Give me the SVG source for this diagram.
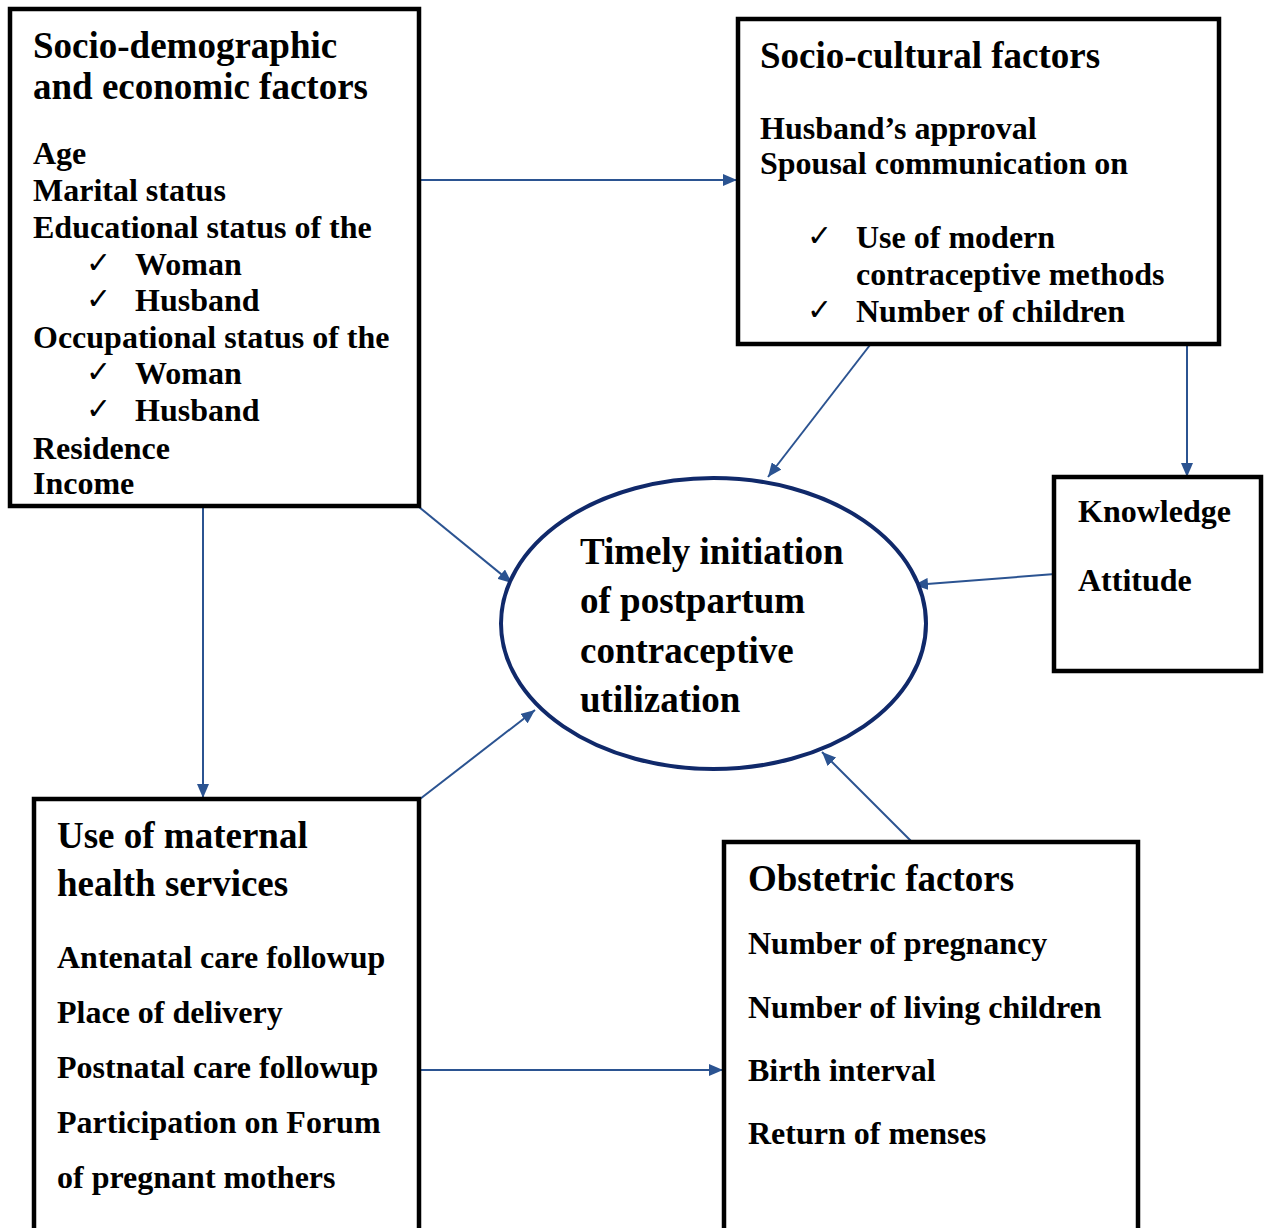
<svg xmlns="http://www.w3.org/2000/svg" width="1267" height="1228" viewBox="0 0 1267 1228">
<style>
.box{fill:#fff;stroke:#000;stroke-width:4.5}
.t{font-family:"Liberation Serif","Times New Roman",serif;font-weight:bold;fill:#000}
.h{font-size:37px}
.b{font-size:32px}
.ck{font-family:"DejaVu Sans",sans-serif;font-size:30px;fill:#000}
.c{stroke:#2b5391;stroke-width:2;fill:none;marker-end:url(#ah)}
</style>
<defs>
<marker id="ah" markerUnits="userSpaceOnUse" markerWidth="16" markerHeight="12" refX="14" refY="6" orient="auto">
<path d="M0,0 L14,6 L0,12 z" fill="#2b5391"/>
</marker>
</defs>
<rect width="1267" height="1228" fill="#fff"/>

<g id="connectors">
<line class="c" x1="420" y1="180" x2="737" y2="180"/>
<line class="c" x1="870" y1="345" x2="768" y2="477"/>
<line class="c" x1="1187" y1="345" x2="1187" y2="477"/>
<line class="c" x1="1055" y1="574" x2="914" y2="585"/>
<line class="c" x1="419" y1="507" x2="512" y2="583"/>
<line class="c" x1="203" y1="507" x2="203" y2="798"/>
<line class="c" x1="420" y1="799" x2="535" y2="710"/>
<line class="c" x1="912" y1="842" x2="822" y2="752"/>
<line class="c" x1="420" y1="1070" x2="723" y2="1070"/>
</g>

<g id="socio-demographic">
<rect class="box" x="10" y="9" width="409" height="497"/>
<text class="t h" x="33" y="58">Socio-demographic</text>
<text class="t h" x="33" y="99">and economic factors</text>
<text class="t b" x="33" y="164">Age</text>
<text class="t b" x="33" y="201">Marital status</text>
<text class="t b" x="33" y="238">Educational status of the</text>
<text class="ck" x="86" y="273">✓</text>
<text class="t b" x="135" y="275">Woman</text>
<text class="ck" x="86" y="309">✓</text>
<text class="t b" x="135" y="311">Husband</text>
<text class="t b" x="33" y="348">Occupational status of the</text>
<text class="ck" x="86" y="382">✓</text>
<text class="t b" x="135" y="384">Woman</text>
<text class="ck" x="86" y="419">✓</text>
<text class="t b" x="135" y="421">Husband</text>
<text class="t b" x="33" y="459">Residence</text>
<text class="t b" x="33" y="494">Income</text>
</g>

<g id="socio-cultural">
<rect class="box" x="738" y="19" width="481" height="325"/>
<text class="t h" x="760" y="68">Socio-cultural factors</text>
<text class="t b" x="760" y="139">Husband’s approval</text>
<text class="t b" x="760" y="174">Spousal communication on</text>
<text class="ck" x="807" y="246">✓</text>
<text class="t b" x="856" y="248">Use  of modern</text>
<text class="t b" x="856" y="285">contraceptive methods</text>
<text class="ck" x="807" y="320">✓</text>
<text class="t b" x="856" y="322">Number of children</text>
</g>

<g id="knowledge-attitude">
<rect class="box" x="1054" y="477" width="207" height="194"/>
<text class="t b" x="1078" y="522">Knowledge</text>
<text class="t b" x="1078" y="591">Attitude</text>
</g>

<g id="outcome">
<ellipse cx="713.5" cy="623.5" rx="212.5" ry="145.5" fill="#fff" stroke="#10296a" stroke-width="4"/>
<text class="t h" x="580" y="564">Timely initiation</text>
<text class="t h" x="580" y="613">of postpartum</text>
<text class="t h" x="580" y="663">contraceptive</text>
<text class="t h" x="580" y="712">utilization</text>
</g>

<g id="maternal-health">
<rect class="box" x="34" y="799" width="385" height="440"/>
<text class="t h" x="57" y="848">Use of maternal</text>
<text class="t h" x="57" y="896">health services</text>
<text class="t b" x="57" y="968">Antenatal care followup</text>
<text class="t b" x="57" y="1023">Place of delivery</text>
<text class="t b" x="57" y="1078">Postnatal care followup</text>
<text class="t b" x="57" y="1133">Participation on Forum</text>
<text class="t b" x="57" y="1188">of pregnant mothers</text>
</g>

<g id="obstetric">
<rect class="box" x="724" y="842" width="414" height="400"/>
<text class="t h" x="748" y="891">Obstetric factors</text>
<text class="t b" x="748" y="954">Number of pregnancy</text>
<text class="t b" x="748" y="1018">Number of living children</text>
<text class="t b" x="748" y="1081">Birth interval</text>
<text class="t b" x="748" y="1144">Return of menses</text>
</g>
</svg>
